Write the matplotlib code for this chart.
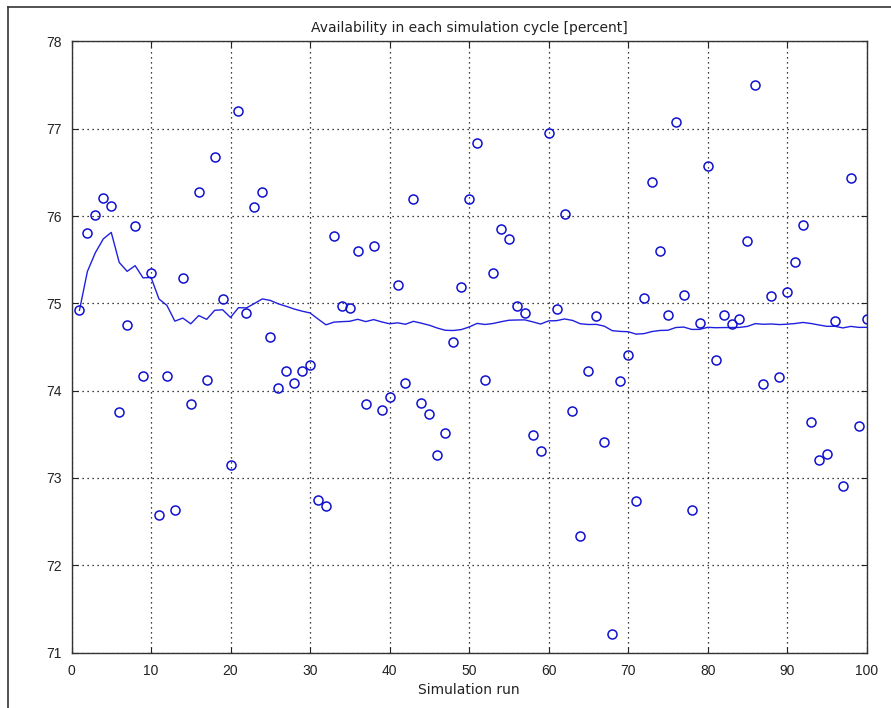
import matplotlib
matplotlib.use('Agg')
import matplotlib.pyplot as plt
from matplotlib.lines import Line2D
import numpy as np

# Datos: disponibilidad por corrida de simulacion.

corridas = np.arange(1, 101)

disponibilidad = [
    74.92, 75.81, 76.01, 76.21, 76.11, 73.75, 74.75, 75.89, 74.17, 75.35,
    72.57, 74.17, 72.63, 75.29, 73.85, 76.27, 74.12, 76.68, 75.05, 73.15,
    77.20, 74.89, 76.10, 76.27, 74.61, 74.03, 74.23, 74.09, 74.22, 74.29,
    72.75, 72.68, 75.77, 74.97, 74.95, 75.60, 73.85, 75.66, 73.78, 73.93,
    75.21, 74.09, 76.19, 73.86, 73.73, 73.26, 73.52, 74.56, 75.19, 76.19,
    76.84, 74.12, 75.35, 75.85, 75.74, 74.97, 74.89, 73.49, 73.31, 76.95,
    74.93, 76.02, 73.77, 72.34, 74.22, 74.85, 73.41, 71.21, 74.11, 74.41,
    72.73, 75.06, 76.39, 75.60, 74.87, 77.08, 75.09, 72.63, 74.77, 76.57,
    74.35, 74.87, 74.76, 74.82, 75.71, 77.50, 74.08, 75.08, 74.16, 75.13,
    75.47, 75.90, 73.64, 73.20, 73.27, 74.80, 72.91, 76.44, 73.60, 74.82,
]

titulo = 'Availability in each simulation cycle [percent]'
etiqueta_x = 'Simulation run'

# Promedio acumulado de las corridas.

disp = np.array(disponibilidad)
promedio = np.cumsum(disp) / corridas

fig = plt.figure(figsize=(8.91, 7.08), dpi=100)
ax = fig.add_axes([71.5 / 891, 1 - 652.5 / 708, (866.7 - 71.5) / 891, (652.5 - 41.4) / 708])

ax.plot(corridas, promedio, color='#2020e0', linewidth=1.0)
ax.plot(corridas, disp, 'o', markerfacecolor='none', markeredgecolor='#1010d0',
        markersize=6.5, markeredgewidth=1.1)

ax.set_xlim(0, 100)
ax.set_ylim(71, 78)
ax.set_xticks(np.arange(0, 101, 10))
ax.set_yticks(np.arange(71, 79, 1))

ax.grid(True, color='black', linestyle=(0, (1, 3)), linewidth=0.9)
ax.set_axisbelow(True)

ax.tick_params(direction='in', top=True, right=True, length=4, width=0.8,
               labelsize=10, colors='#222222')
ax.tick_params(axis='x', pad=8)
ax.tick_params(axis='y', pad=7)
for s in ax.spines.values():
    s.set_linewidth(1.0)
    s.set_color('#333333')

for lab in ax.get_xticklabels() + ax.get_yticklabels():
    lab.set_family('Liberation Sans')

fig.text(0.5 * (71.5 + 866.7) / 891, 1 - 28 / 708, titulo, ha='center', va='center',
         fontsize=10, family='DejaVu Sans', color='#222222')
fig.text(0.5 * (71.5 + 866.7) / 891, 1 - 690 / 708, etiqueta_x, ha='center', va='center',
         fontsize=10, family='DejaVu Sans', color='#222222')

# Marco exterior (borde izquierdo y superior de la captura).

fig.add_artist(Line2D([7.5 / 891, 7.5 / 891], [0, 1 - 6.5 / 708], color='#333333',
                      linewidth=1.2, transform=fig.transFigure))
fig.add_artist(Line2D([7.5 / 891, 1], [1 - 6.5 / 708, 1 - 6.5 / 708], color='#333333',
                      linewidth=1.2, transform=fig.transFigure))

fig.savefig('out.png', dpi=100)
